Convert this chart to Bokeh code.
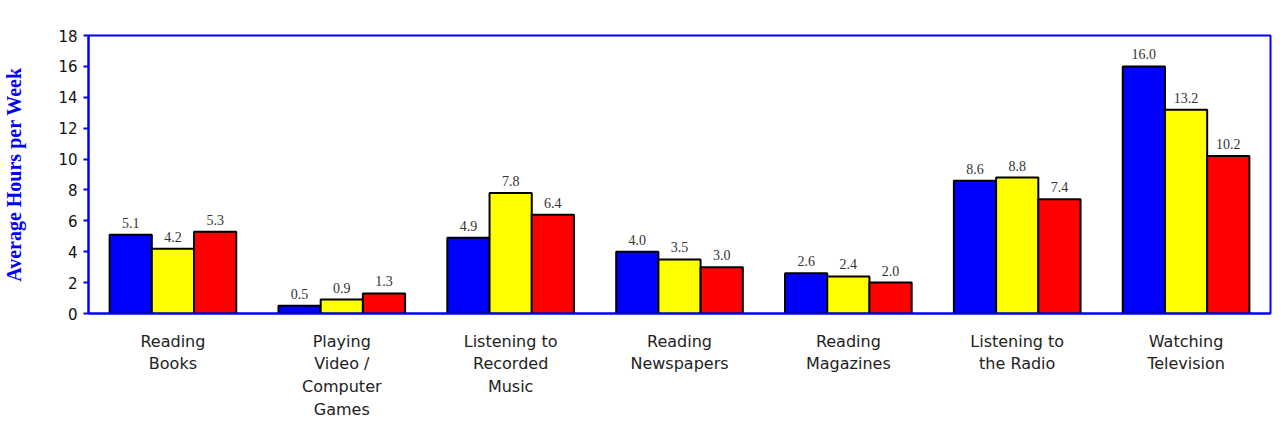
from bokeh.plotting import figure
from bokeh.models import (ColumnDataSource, FactorRange, Range1d, FixedTicker,
                          Legend, LegendItem, LabelSet, Label)
from bokeh.transform import dodge
from bokeh.embed import file_html
from bokeh.resources import INLINE

categories = ["Reading\nBooks", "Playing\nVideo /\nComputer\nGames",
              "Listening to\nRecorded\nMusic", "Reading\nNewspapers",
              "Reading\nMagazines", "Listening to\nthe Radio",
              "Watching\nTelevision"]
series_names = ["Non-users", "New Users (<1 Year)",
                "Very Experienced Users (6 or More Years)"]
non_users = [5.1, 0.5, 4.9, 4.0, 2.6, 8.6, 16.0]
new_users = [4.2, 0.9, 7.8, 3.5, 2.4, 8.8, 13.2]
experienced = [5.3, 1.3, 6.4, 3.0, 2.0, 7.4, 10.2]
y_ticks = [0, 2, 4, 6, 8, 10, 12, 14, 16, 18]

colors = ["#0000FF", "#FFFF00", "#FF0000"]
offsets = [-0.25, 0.0, 0.25]
series = [non_users, new_users, experienced]
FH = 298

p = figure(width=1272, height=421, output_backend="svg",
           toolbar_location=None,
           x_range=FactorRange(factors=categories), y_range=Range1d(0, 18),
           min_border_left=85, min_border_right=2, min_border_top=35,
           min_border_bottom=88)

p.outline_line_color = "#0000FF"
p.outline_line_width = 2
p.xgrid.visible = False
p.ygrid.visible = False

items = []
for name, vals, col, off in zip(series_names, series, colors, offsets):
    src = ColumnDataSource(dict(cat=categories, v=vals,
                                t=["%.1f" % v for v in vals]))
    r = p.vbar(x=dodge("cat", off, range=p.x_range), top="v", width=0.25,
               source=src, fill_color=col, line_color="black", line_width=2)
    items.append(LegendItem(label=name, renderers=[r]))
    p.add_layout(LabelSet(x=dodge("cat", off, range=p.x_range), y="v",
                          text="t", source=src, y_offset=7,
                          text_align="center", text_baseline="bottom",
                          text_font="DejaVu Sans", text_font_size="14px",
                          text_color="#333333"))

# legend kept in the central panel, placed just above the plot frame
legend = Legend(items=items, orientation="horizontal", location=(236, FH + 4),
                border_line_color=None, background_fill_alpha=0,
                padding=5, spacing=34, label_height=21,
                glyph_width=11, glyph_height=11, label_standoff=6,
                label_text_font="DejaVu Sans", label_text_font_size="17px",
                label_text_color="#111111")
p.add_layout(legend)

# y axis
p.yaxis.ticker = FixedTicker(ticks=y_ticks)
p.yaxis.axis_line_color = "#0000FF"
p.yaxis.axis_line_width = 2
p.yaxis.major_tick_line_color = "#0000FF"
p.yaxis.major_tick_line_width = 2
p.yaxis.major_tick_out = 5
p.yaxis.major_tick_in = 0
p.yaxis.minor_tick_line_color = None
p.yaxis.major_label_text_font = "DejaVu Sans"
p.yaxis.major_label_text_font_size = "15px"
p.yaxis.major_label_text_color = "#111111"
p.yaxis.major_label_standoff = 6
p.yaxis.axis_label = "Average Hours per Week"
p.yaxis.axis_label_text_font = "Liberation Serif"
p.yaxis.axis_label_text_font_style = "bold"
p.yaxis.axis_label_text_font_size = "20px"
p.yaxis.axis_label_text_color = "#0000FF"
p.yaxis.axis_label_standoff = 30

# x axis
p.xaxis.axis_line_color = "#0000FF"
p.xaxis.axis_line_width = 2
p.xaxis.major_tick_line_color = None
p.xaxis.minor_tick_line_color = None
p.xaxis.major_label_text_font = "DejaVu Sans"
p.xaxis.major_label_text_font_size = "16px"
p.xaxis.major_label_text_color = "#222222"
p.xaxis.major_label_standoff = 12

p.add_layout(Label(x=len(categories) / 2, y=-3.75, text="Offline Activities",
                   text_align="center", text_baseline="middle",
                   text_font="Liberation Serif", text_font_style="bold",
                   text_font_size="20px", text_color="#0000FF"))

open("out.html", "w").write(file_html(p, INLINE))
